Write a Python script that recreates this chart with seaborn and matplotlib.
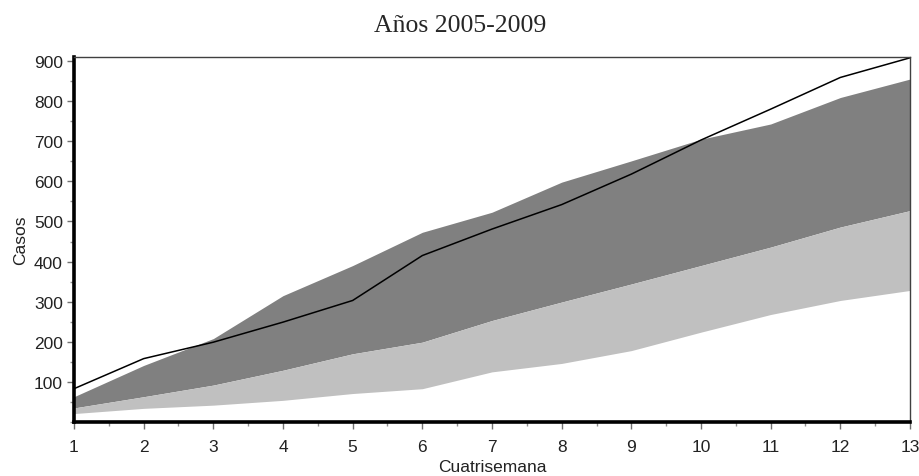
import matplotlib
matplotlib.use("Agg")
import matplotlib.pyplot as plt
import seaborn as sns
import numpy as np
import pandas as pd
from matplotlib.ticker import MultipleLocator

cuatrisemana = [1, 2, 3, 4, 5, 6, 7, 8, 9, 10, 11, 12, 13]
casos_actual = [83, 158, 199, 249, 303, 415, 481, 542, 618, 703, 780, 859, 908]
dark_upper = [63, 141, 208, 315, 390, 473, 523, 598, 651, 705, 743, 809, 855]
band_mid = [35, 63, 92, 129, 170, 199, 253, 299, 344, 390, 436, 486, 527]
light_lower = [21, 34, 42, 54, 71, 83, 125, 146, 178, 224, 268, 303, 328]

df = pd.DataFrame({"Cuatrisemana": cuatrisemana, "Casos": casos_actual})

sns.set_style("ticks")
plt.rcParams["font.family"] = ["Liberation Sans", "DejaVu Sans"]

fig = plt.figure(figsize=(9.2, 4.77), dpi=100)
ax = fig.add_axes([74 / 920, (477 - 423) / 477, (910 - 74) / 920, (423 - 58) / 477])

ax.fill_between(cuatrisemana, band_mid, dark_upper, color="#808080", linewidth=0)
ax.fill_between(cuatrisemana, light_lower, band_mid, color="#c0c0c0", linewidth=0)
sns.lineplot(data=df, x="Cuatrisemana", y="Casos", ax=ax, color="black", linewidth=1.1)

ax.set_xlim(1, 13)
ax.set_ylim(0, 910)
ax.set_xticks(cuatrisemana)
ax.set_yticks([100, 200, 300, 400, 500, 600, 700, 800, 900])
ax.xaxis.set_minor_locator(MultipleLocator(0.5))
ax.yaxis.set_minor_locator(MultipleLocator(50))

for s in ["left", "bottom"]:
    ax.spines[s].set_linewidth(2.6)
    ax.spines[s].set_color("black")
for s in ["top", "right"]:
    ax.spines[s].set_linewidth(1.0)
    ax.spines[s].set_color("#404040")
    ax.spines[s].set_visible(True)

ax.tick_params(axis="both", which="major", direction="out", length=5, width=1,
               color="#707070", labelsize=12.5, labelcolor="#222222")
ax.tick_params(axis="both", which="minor", direction="out", length=3, width=1,
               color="#909090")
ax.tick_params(axis="x", which="major", pad=7)
ax.tick_params(axis="y", which="major", pad=3)

ax.set_xlabel("Cuatrisemana", fontsize=12.5, labelpad=4, color="#222222")
ax.set_ylabel("Casos", fontsize=12.5, labelpad=4, color="#222222")
fig.text(0.5, 1 - 26 / 477, "Años 2005-2009", ha="center", va="center",
         fontsize=18.5, family=["Liberation Serif", "DejaVu Serif"])

fig.savefig("out.png", dpi=100, facecolor="white")
